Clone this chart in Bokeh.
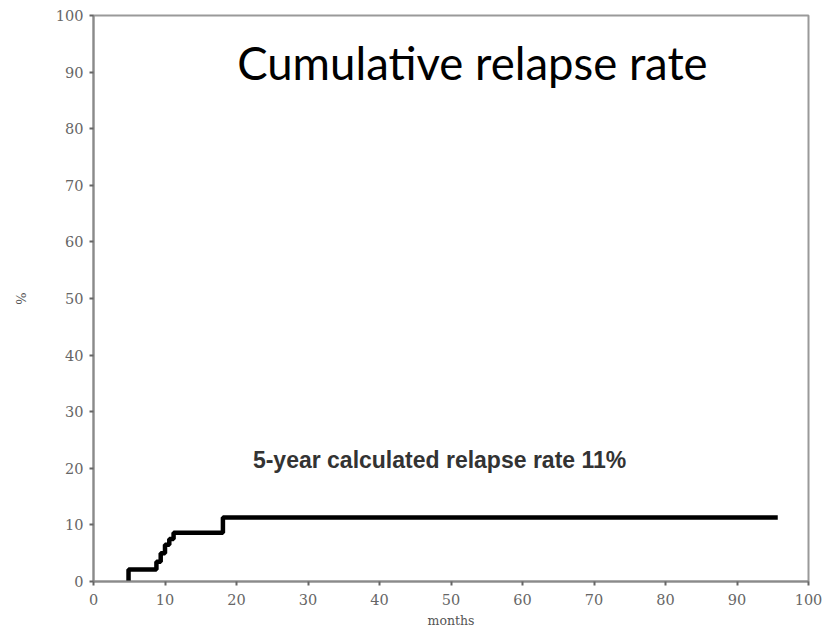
from bokeh.plotting import figure
from bokeh.models import Range1d, FixedTicker, Label
from bokeh.embed import file_html
from bokeh.resources import INLINE

# Data
months = [4.6, 4.9, 8.8, 9.4, 10.0, 10.6, 11.2, 18.1, 95.7]
relapse_pct = [0.0, 2.1, 3.5, 5.0, 6.5, 7.5, 8.6, 11.3, 11.3]
tick_values = [0, 10, 20, 30, 40, 50, 60, 70, 80, 90, 100]
title_text = "Cumulative relapse rate"
note_text = "5-year calculated relapse rate 11%"

p = figure(width=832, height=630, output_backend="svg", toolbar_location=None,
           x_range=Range1d(0, 100), y_range=Range1d(0, 100),
           min_border_left=93, min_border_right=24, min_border_top=15, min_border_bottom=48)
p.background_fill_color = "white"
p.border_fill_color = "white"
p.grid.visible = False
p.outline_line_color = "#9a9a9a"
p.outline_line_width = 2

for ax in (p.xaxis[0], p.yaxis[0]):
    ax.ticker = FixedTicker(ticks=tick_values)
    ax.axis_line_color = "#8a8a8a"
    ax.axis_line_width = 2
    ax.major_tick_line_color = "#666666"
    ax.major_tick_line_width = 2
    ax.major_tick_out = 4
    ax.major_tick_in = 0
    ax.minor_tick_line_color = None
    ax.major_label_text_font = "DejaVu Serif"
    ax.major_label_text_font_size = "14.5px"
    ax.major_label_text_color = "#666666"
    ax.axis_label_text_font = "DejaVu Serif"
    ax.axis_label_text_font_style = "normal"
    ax.axis_label_text_color = "#555555"

p.xaxis.axis_label = "months"
p.xaxis.axis_label_text_font_size = "12.5px"
p.xaxis.axis_label_standoff = 5
p.xaxis.major_label_standoff = 8
p.yaxis.axis_label = "%"
p.yaxis.axis_label_text_font_size = "13px"
p.yaxis.axis_label_standoff = 24
p.yaxis.major_label_standoff = 6

p.step(months, relapse_pct, mode="after", line_color="black", line_width=4.5)

p.add_layout(Label(x=20.1, y=91.7, text=title_text, text_font="Lato",
                   text_font_size="45.5px", text_color="black", text_baseline="middle"))
p.add_layout(Label(x=48.4, y=21.5, text=note_text, text_font="Liberation Sans",
                   text_font_style="bold", text_font_size="23px", text_color="#333333",
                   text_align="center", text_baseline="middle"))

open("out.html", "w").write(file_html(p, INLINE))
